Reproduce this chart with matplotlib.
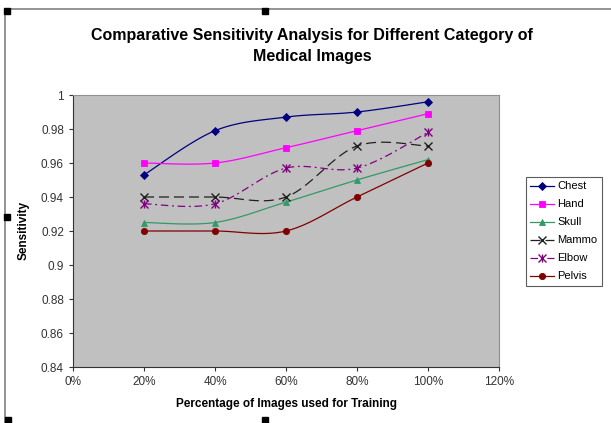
import numpy as np
import matplotlib.pyplot as plt
from matplotlib.patches import Rectangle

plt.rcParams['font.family'] = ['Liberation Sans', 'DejaVu Sans']

pct = [0.2, 0.4, 0.6, 0.8, 1.0]
chest = [0.953, 0.979, 0.987, 0.990, 0.996]
hand = [0.960, 0.960, 0.969, 0.979, 0.989]
skull = [0.925, 0.925, 0.937, 0.950, 0.962]
mammo = [0.940, 0.940, 0.940, 0.970, 0.970]
elbow = [0.936, 0.936, 0.957, 0.957, 0.978]
pelvis = [0.920, 0.920, 0.920, 0.940, 0.960]

x_ticks = [0, 0.2, 0.4, 0.6, 0.8, 1.0, 1.2]
x_labels = ['0%', '20%', '40%', '60%', '80%', '100%', '120%']
y_ticks = [0.84, 0.86, 0.88, 0.9, 0.92, 0.94, 0.96, 0.98, 1]
y_labels = ['0.84', '0.86', '0.88', '0.9', '0.92', '0.94', '0.96', '0.98', '1']


def smooth(x, y, n=30):
    # Catmull-Rom style bezier, like Excel's smoothed line
    x = np.asarray(x, float)
    y = np.asarray(y, float)
    px = np.concatenate([[x[0]], x, [x[-1]]])
    py = np.concatenate([[y[0]], y, [y[-1]]])
    xs, ys = [], []
    t = np.linspace(0, 1, n)
    for i in range(1, len(px) - 2):
        p0 = np.array([px[i], py[i]])
        p3 = np.array([px[i + 1], py[i + 1]])
        p1 = p0 + (np.array([px[i + 1], py[i + 1]]) - np.array([px[i - 1], py[i - 1]])) / 6
        p2 = p3 - (np.array([px[i + 2], py[i + 2]]) - np.array([px[i], py[i]])) / 6
        b = ((1 - t) ** 3)[:, None] * p0 + (3 * (1 - t) ** 2 * t)[:, None] * p1 \
            + (3 * (1 - t) * t ** 2)[:, None] * p2 + (t ** 3)[:, None] * p3
        xs.extend(b[:, 0])
        ys.extend(b[:, 1])
    return xs, ys


# name, values, colour, markers, line style, marker size
series = [
    ('Chest', chest, '#000080', ['D'], '-', 4),
    ('Hand', hand, '#FF00FF', ['s'], '-', 4),
    ('Skull', skull, '#339966', ['^'], '-', 5),
    ('Mammo', mammo, '#202020', ['x'], (0, (8, 4)), 6),
    ('Elbow', elbow, '#800080', ['x', '|'], (0, (6, 3, 1.5, 3)), 6),
    ('Pelvis', pelvis, '#800000', ['o'], '-', 4.5),
]

fig = plt.figure(figsize=(6.11, 4.23), dpi=100)
ax = fig.add_axes([73 / 611, 56 / 423, 426 / 611, 272 / 423])
ax.set_facecolor('#C0C0C0')

handles = []
for name, vals, col, mks, ls, ms in series:
    sx, sy = smooth(pct, vals)
    ax.plot(sx, sy, color=col, lw=0.9, ls=ls)
    parts = [ax.plot([], [], color=col, lw=0.9, ls=ls)[0]]
    for mk in mks:
        mew = 1.0 if mk in ('x', '|') else 0.6
        ax.plot(pct, vals, ls='none', marker=mk, color=col, ms=ms, mew=mew)
        parts.append(ax.plot([], [], ls='none', marker=mk, color=col, ms=ms, mew=mew)[0])
    handles.append(tuple(parts))

ax.set_xlim(0, 1.2)
ax.set_ylim(0.84, 1)
ax.set_xticks(x_ticks)
ax.set_xticklabels(x_labels)
ax.set_yticks(y_ticks)
ax.set_yticklabels(y_labels)
ax.tick_params(labelsize=8.5, labelcolor='#333333', length=3, width=0.8, color='#333333')
for s in ['top', 'right']:
    ax.spines[s].set_color('#909090')
for s in ['left', 'bottom']:
    ax.spines[s].set_color('#333333')

ax.set_xlabel('Percentage of Images used for Training', fontsize=8.5, fontweight='bold', labelpad=7)
ax.set_ylabel('Sensitivity', fontsize=8.5, fontweight='bold', labelpad=8)
fig.text(312 / 611, 1 - 46 / 423,
         'Comparative Sensitivity Analysis for Different Category of\nMedical Images',
         ha='center', va='center', fontsize=11.5, fontweight='bold', linespacing=1.45)

leg = fig.legend(handles=handles, labels=[s[0] for s in series], loc='upper left',
                 bbox_to_anchor=(526 / 611, 1 - 177 / 423),
                 fontsize=8, frameon=True, fancybox=False, edgecolor='#333333',
                 handlelength=2.1, handletextpad=0.3, labelspacing=0.72, borderpad=0.4,
                 borderaxespad=0)
leg.get_frame().set_linewidth(0.8)

# chart area border and selection handles
fig.patches.append(Rectangle((5 / 611, -5 / 423), 0.999, 419 / 423, transform=fig.transFigure,
                             fill=False, edgecolor='#808080', lw=1.2))
for hx, hy in [(7, 11), (265, 11), (7, 217), (8, 420), (265, 420)]:
    fig.patches.append(Rectangle(((hx - 3) / 611, 1 - (hy + 3) / 423), 6 / 611, 6 / 423,
                                 transform=fig.transFigure, color='black'))

fig.savefig('out.png', dpi=100)
